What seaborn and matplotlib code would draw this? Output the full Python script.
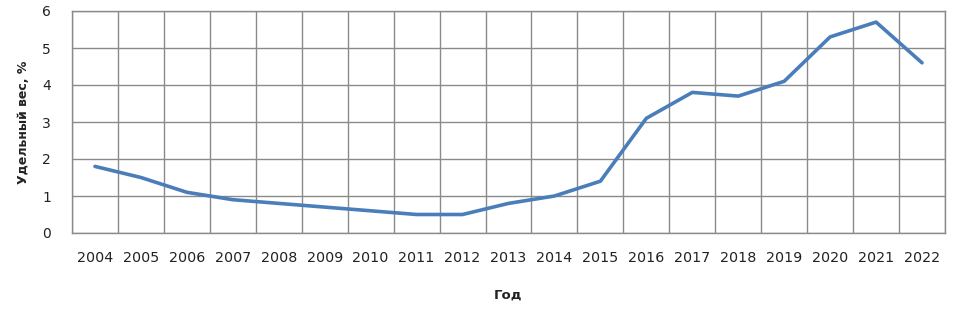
import matplotlib
matplotlib.use("Agg")
import matplotlib.pyplot as plt
import seaborn as sns
import pandas as pd
import numpy as np
from matplotlib.ticker import FixedLocator

years = ["2004", "2005", "2006", "2007", "2008", "2009", "2010", "2011", "2012", "2013",
         "2014", "2015", "2016", "2017", "2018", "2019", "2020", "2021", "2022"]
values = [1.8, 1.5, 1.1, 0.9, 0.8, 0.7, 0.6, 0.5, 0.5, 0.8,
          1.0, 1.4, 3.1, 3.8, 3.7, 4.1, 5.3, 5.7, 4.6]
y_ticks = [0, 1, 2, 3, 4, 5, 6]

sns.set_theme(style="white")
plt.rcParams['font.family'] = ['DejaVu Sans']

df = pd.DataFrame({"year": years, "value": values})

fig = plt.figure(figsize=(9.61, 3.17), dpi=100)
ax = fig.add_axes([72/961, 1 - 233/317, (945-72)/961, (233-11)/317])

sns.lineplot(data=df, x="year", y="value", ax=ax, color="#4a7ebb", linewidth=2.6, sort=False)

n = len(years)
ax.set_xlim(-0.5, n - 0.5)
ax.set_ylim(0, 6)
ax.set_yticks(y_ticks)
ax.set_xticks(range(n))
ax.set_xticklabels(years)
ax.xaxis.set_minor_locator(FixedLocator(np.arange(-0.5, n, 1.0)))

ax.grid(False)
ax.grid(True, which="minor", axis="x", color="#8a8a8a", linewidth=1.0)
ax.grid(True, which="major", axis="y", color="#8a8a8a", linewidth=1.0)
ax.set_axisbelow(True)

for s in ax.spines.values():
    s.set_color("#8a8a8a")
    s.set_linewidth(1.0)

ax.tick_params(axis="x", which="major", length=0, pad=13, labelsize=10.3, colors="#222222")
ax.tick_params(axis="x", which="minor", length=5, color="#8a8a8a", width=1.0, direction="out")
ax.tick_params(axis="y", which="major", length=6, color="#8a8a8a", width=1.0, direction="out",
               pad=9, labelsize=10, colors="#222222")

ax.set_xlabel("Год", fontsize=9.5, fontweight="bold", labelpad=17, color="#222222")
ax.set_ylabel("Удельный вес, %", fontsize=9, fontweight="bold", labelpad=9, color="#222222")

fig.savefig("out.png", dpi=100)
